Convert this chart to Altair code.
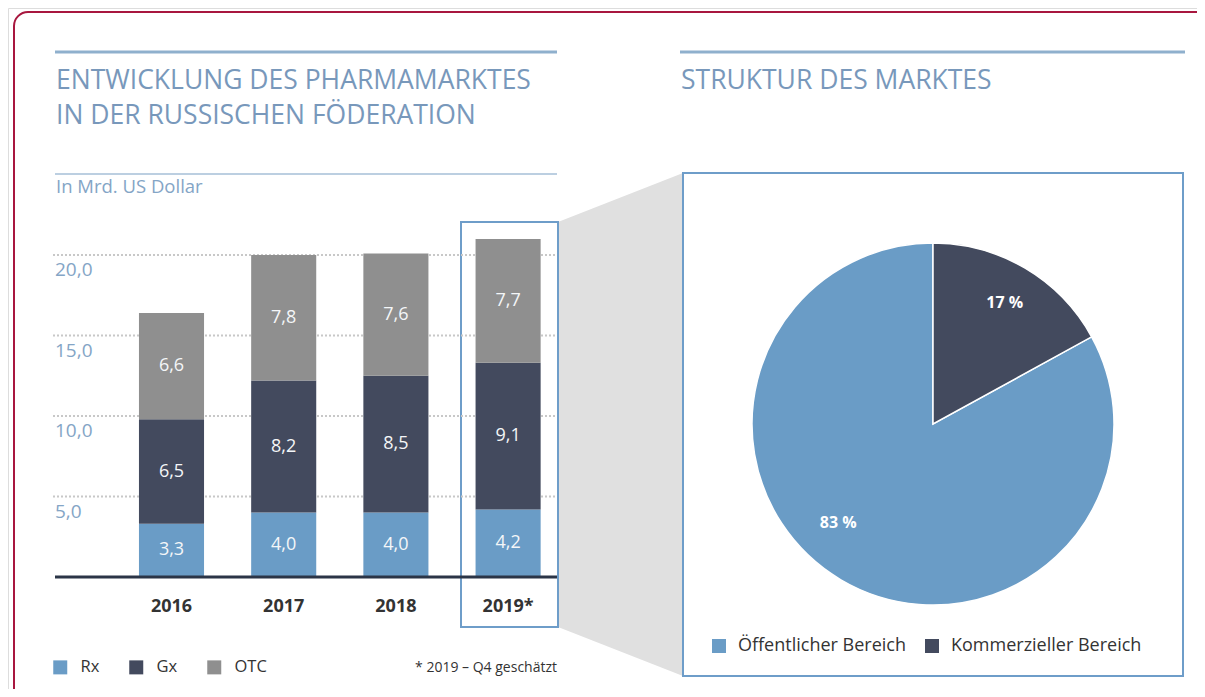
import altair as alt
import pandas as pd

# ---------------- data ----------------
years = ["2016", "2017", "2018", "2019*"]
rx = [3.3, 4.0, 4.0, 4.2]
gx = [6.5, 8.2, 8.5, 9.1]
otc = [6.6, 7.8, 7.6, 7.7]
series = ["Rx", "Gx", "OTC"]

y_ticks = [5, 10, 15, 20]
y_tick_labels = ["5,0", "10,0", "15,0", "20,0"]

sectors = ["Öffentlicher Bereich", "Kommerzieller Bereich"]
shares = [83, 17]
share_labels = ["83 %", "17 %"]

title_left = ["ENTWICKLUNG DES PHARMAMARKTES", "IN DER RUSSISCHEN FÖDERATION"]
title_right = "STRUKTUR DES MARKTES"
unit_label = "In Mrd. US Dollar"
footnote = "* 2019 – Q4 geschätzt"

# ---------------- styles / layout ----------------
FONT = "Open Sans"
C_RX, C_GX, C_OTC = "#6a9cc6", "#434a5e", "#8f8f8f"
C_TITLE = "#7898bb"
C_TICK = "#84a5c6"
C_RULE = "#8fb0cd"
C_RULE2 = "#bccfe1"
C_BOX = "#6e9dc9"
C_FRAME = "#a8173f"
C_GRID = "#c8c8c8"
C_BASE = "#2b3547"
C_TEXT = "#333333"
C_TRAP = "#e0e0e0"

W, H = 1189, 681
X_RANGE = [107.4, 556.2]
Y_RANGE = [569, 247]
PIE_CX, PIE_CY, PIE_R = 925, 416, 181

fmt = lambda v: f"{v:.1f}".replace(".", ",")

rows = []
for i, yr in enumerate(years):
    for k, (s, vals) in enumerate(zip(series, [rx, gx, otc])):
        rows.append(dict(year=yr, series=s, value=vals[i], ord=k, label=fmt(vals[i])))
bars_df = pd.DataFrame(rows)

ticks_df = pd.DataFrame({"v": y_ticks, "lab": y_tick_labels})
pie_df = pd.DataFrame({"sector": sectors, "share": shares, "lab": share_labels,
                       "ord": [1, 0]})
one = pd.DataFrame({"a": [0]})

xs = alt.Scale(domain=years, range=X_RANGE, paddingInner=0.42, paddingOuter=0.21)
ys = alt.Scale(domain=[0, 20], range=Y_RANGE, nice=False, zero=False)
ts = alt.Scale(domain=[0, 100])

# ---------------- decorations ----------------
frame = alt.Chart(one).mark_rect(cornerRadius=14, stroke=C_FRAME, strokeWidth=2,
                                 fillOpacity=0).encode(
    x=alt.value(6), x2=alt.value(1400), y=alt.value(4), y2=alt.value(900))

trap_df = pd.DataFrame({"px": [550, 675], "top": [214, 165], "bot": [619, 668]})
trap = alt.Chart(trap_df).mark_area(color=C_TRAP, opacity=1).encode(
    x=alt.X("px:Q", scale=None, axis=None),
    y=alt.Y("top:Q", scale=None, axis=None),
    y2="bot:Q")

box2019 = alt.Chart(one).mark_rect(stroke=C_BOX, strokeWidth=2, fillOpacity=0).encode(
    x=alt.value(453), x2=alt.value(550), y=alt.value(214), y2=alt.value(619))
piebox = alt.Chart(one).mark_rect(stroke=C_BOX, strokeWidth=2, fill="white").encode(
    x=alt.value(675), x2=alt.value(1175), y=alt.value(165), y2=alt.value(668))

rule_l = alt.Chart(one).mark_rule(color=C_RULE, strokeWidth=3).encode(
    x=alt.value(47), x2=alt.value(549), y=alt.value(44))
rule_r = alt.Chart(one).mark_rule(color=C_RULE, strokeWidth=3).encode(
    x=alt.value(672), x2=alt.value(1177), y=alt.value(44))
rule_l2 = alt.Chart(one).mark_rule(color=C_RULE2, strokeWidth=2).encode(
    x=alt.value(47), x2=alt.value(549), y=alt.value(166))

t1 = alt.Chart(one).mark_text(text=title_left[0], font=FONT, fontSize=26.5, color=C_TITLE,
                              align="left", baseline="middle").encode(
    x=alt.value(48), y=alt.value(73))
t2 = alt.Chart(one).mark_text(text=title_left[1], font=FONT, fontSize=26.5, color=C_TITLE,
                              align="left", baseline="middle").encode(
    x=alt.value(48), y=alt.value(108))
t3 = alt.Chart(one).mark_text(text=title_right, font=FONT, fontSize=26.5, color=C_TITLE,
                              align="left", baseline="middle").encode(
    x=alt.value(673), y=alt.value(73))
unit = alt.Chart(one).mark_text(text=unit_label, font=FONT, fontSize=18.5, color=C_TICK,
                                align="left", baseline="middle").encode(
    x=alt.value(48), y=alt.value(179))
foot = alt.Chart(one).mark_text(text=footnote, font=FONT, fontSize=14, color=C_TEXT,
                                align="right", baseline="middle").encode(
    x=alt.value(549), y=alt.value(660))

# ---------------- bar chart ----------------
grid = alt.Chart(ticks_df).mark_rule(color=C_GRID, strokeWidth=2, strokeDash=[2, 2]).encode(
    y=alt.Y("v:Q", scale=ys, axis=None), x=alt.value(45), x2=alt.value(549))
tick_txt = alt.Chart(ticks_df).mark_text(font=FONT, fontSize=19, color=C_TICK, align="left",
                                         baseline="middle", dy=15).encode(
    y=alt.Y("v:Q", scale=ys, axis=None), x=alt.value(47), text="lab:N")

stacked = alt.Chart(bars_df).transform_stack(
    stack="value", as_=["y0", "y1"], groupby=["year"],
    sort=[alt.SortField("ord", order="ascending")]
).transform_calculate(mid="(datum.y0 + datum.y1) / 2")

bars = stacked.mark_bar().encode(
    x=alt.X("year:N", scale=xs, axis=None),
    y=alt.Y("y0:Q", scale=ys, axis=None), y2="y1:Q",
    color=alt.Color("series:N", scale=alt.Scale(domain=series, range=[C_RX, C_GX, C_OTC]),
                    legend=alt.Legend(orient="none", legendX=44, legendY=651,
                                      direction="horizontal", title=None,
                                      symbolType="square", symbolSize=196,
                                      symbolStrokeWidth=0, labelFont=FONT,
                                      labelFontSize=16.5, labelColor=C_TEXT,
                                      labelOffset=12, columnPadding=28, padding=0)))
bar_txt = stacked.mark_text(font=FONT, fontSize=18, color="#f4f6f8", baseline="middle").encode(
    x=alt.X("year:N", scale=xs, axis=None),
    y=alt.Y("mid:Q", scale=ys, axis=None), text="label:N")

baseline = alt.Chart(one).mark_rule(color=C_BASE, strokeWidth=3).encode(
    y=alt.datum(0), x=alt.value(47), x2=alt.value(549))

x_txt = alt.Chart(pd.DataFrame({"year": years})).mark_text(
    font=FONT, fontSize=18, fontWeight="bold", color=C_TEXT, baseline="middle").encode(
    x=alt.X("year:N", scale=xs, axis=None), y=alt.value(599), text="year:N")

# ---------------- pie ----------------
pie = alt.Chart(pie_df).mark_arc(radius=PIE_R, stroke="white", strokeWidth=1.5).encode(
    theta=alt.Theta("share:Q", stack=True, scale=ts),
    order=alt.Order("ord:Q"),
    x=alt.value(PIE_CX), y=alt.value(PIE_CY),
    color=alt.Color("sector:N", scale=alt.Scale(domain=sectors, range=[C_RX, C_GX]),
                    legend=alt.Legend(orient="none", legendX=702, legendY=629,
                                      direction="horizontal", title=None,
                                      symbolType="square", symbolSize=196,
                                      symbolStrokeWidth=0, labelFont=FONT,
                                      labelFontSize=18, labelColor=C_TEXT,
                                      labelOffset=10, columnPadding=17, padding=0,
                                      labelLimit=0)))

pie_lab = alt.Chart(pie_df).transform_window(
    cum="sum(share)", sort=[alt.SortField("ord", order="ascending")]
).transform_calculate(mid="datum.cum - datum.share / 2")

def pie_text(cond, dx, dy):
    return pie_lab.transform_filter(cond).mark_text(
        radius=141, font=FONT, fontSize=16, fontWeight="bold", color="white",
        dx=dx, dy=dy).encode(
        theta=alt.Theta("mid:Q", scale=ts, stack=None),
        x=alt.value(PIE_CX), y=alt.value(PIE_CY), text="lab:N")

pie_txt17 = pie_text("datum.share < 50", 0, 0)
pie_txt83 = pie_text("datum.share >= 50", -23, -22)

chart = alt.layer(
    frame, trap, box2019, piebox, rule_l, rule_r, rule_l2, t1, t2, t3, unit, foot,
    grid, tick_txt, bars, bar_txt, baseline, x_txt, pie, pie_txt17, pie_txt83
).resolve_scale(color="independent").properties(
    width=W, height=H, autosize=alt.AutoSizeParams(type="none"), padding=0
).configure_view(stroke=None).configure(font=FONT)

chart.save("out.html", embed_options={"renderer": "svg", "actions": False})
